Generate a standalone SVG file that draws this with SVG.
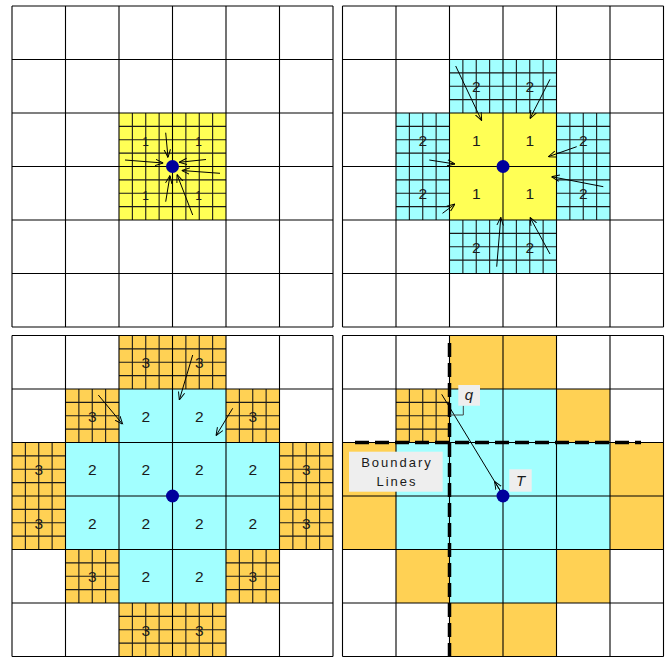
<svg xmlns="http://www.w3.org/2000/svg" xmlns:xlink="http://www.w3.org/1999/xlink" width="670" height="657" viewBox="0 0 670 657">
<style>
.yl{fill:#FFFF55}
.cy{fill:#A2FFFF}
.or{fill:#FFD154}
.grid{fill:none;stroke:#000;stroke-width:1.1}
.fine{fill:none;stroke:#1a1a1a;stroke-width:1.1}
.arr{fill:none;stroke:#000;stroke-width:1;marker-end:url(#ah)}
.dot{fill:#00009C}
.num{font-family:"Liberation Sans",Arial,sans-serif;font-size:15.5px;text-anchor:middle;fill:#1a1a1a}
.sm{font-size:12px}
.lbl{fill:#EEEEEE}
.it{font-family:"Liberation Sans",Arial,sans-serif;font-size:15px;font-style:italic;text-anchor:middle;fill:#1a1a1a}
.bl{font-family:"Liberation Sans",Arial,sans-serif;font-size:13px;letter-spacing:2px;text-anchor:middle;fill:#1a1a1a}
.dash{fill:none;stroke:#000;stroke-width:3.5;stroke-dasharray:14 6}
</style>
<defs>
<marker id="ah" viewBox="0 0 10 10" refX="10" refY="5" markerWidth="8" markerHeight="8" orient="auto" markerUnits="userSpaceOnUse">
<path d="M0,1 L10,5 L0,9" fill="none" stroke="#000" stroke-width="1.2"/>
</marker>
<path id="grid" class="grid" d="M0 0V321M53.5 0V321M107 0V321M160.5 0V321M214 0V321M267.5 0V321M321 0V321M0 0H321M0 53.5H321M0 107H321M0 160.5H321M0 214H321M0 267.5H321M0 321H321"/>
<path id="fine" class="fine" d="M13.375 0V53.5M26.75 0V53.5M40.125 0V53.5M0 13.375H53.5M0 26.75H53.5M0 40.125H53.5"/>
</defs>
<rect x="0" y="0" width="670" height="657" fill="#fff"/>

<g id="panel1" transform="translate(12,6)">
<rect class="yl" x="107" y="107" width="107" height="107"/>
<use href="#fine" x="107" y="107"/><use href="#fine" x="160.5" y="107"/><use href="#fine" x="107" y="160.5"/><use href="#fine" x="160.5" y="160.5"/>
<use href="#grid"/>
<g class="num sm"><text x="133.5" y="140">1</text><text x="186.5" y="140">1</text><text x="133.5" y="193.5">1</text><text x="186.5" y="193.5">1</text></g>
</g>

<g id="panel2" transform="translate(342.5,6)">
<rect class="yl" x="107" y="107" width="107" height="107"/>
<rect class="cy" x="107" y="53.5" width="107" height="53.5"/>
<rect class="cy" x="107" y="214" width="107" height="53.5"/>
<rect class="cy" x="53.5" y="107" width="53.5" height="107"/>
<rect class="cy" x="214" y="107" width="53.5" height="107"/>
<use href="#fine" x="107" y="53.5"/><use href="#fine" x="160.5" y="53.5"/><use href="#fine" x="107" y="214"/><use href="#fine" x="160.5" y="214"/>
<use href="#fine" x="53.5" y="107"/><use href="#fine" x="53.5" y="160.5"/><use href="#fine" x="214" y="107"/><use href="#fine" x="214" y="160.5"/>
<use href="#grid"/>
<g class="num">
<text x="133.75" y="86">2</text><text x="187.25" y="86">2</text>
<text x="80.25" y="139.5">2</text><text x="133.75" y="139.5">1</text><text x="187.25" y="139.5">1</text><text x="240.75" y="139.5">2</text>
<text x="80.25" y="193">2</text><text x="133.75" y="193">1</text><text x="187.25" y="193">1</text><text x="240.75" y="193">2</text>
<text x="133.75" y="246.5">2</text><text x="187.25" y="246.5">2</text>
</g>
</g>

<g id="panel3" transform="translate(12,335.5)">
<rect class="cy" x="107" y="53.5" width="107" height="214"/>
<rect class="cy" x="53.5" y="107" width="214" height="107"/>
<rect class="or" x="107" y="0" width="107" height="53.5"/>
<rect class="or" x="107" y="267.5" width="107" height="53.5"/>
<rect class="or" x="0" y="107" width="53.5" height="107"/>
<rect class="or" x="267.5" y="107" width="53.5" height="107"/>
<rect class="or" x="53.5" y="53.5" width="53.5" height="53.5"/>
<rect class="or" x="214" y="53.5" width="53.5" height="53.5"/>
<rect class="or" x="53.5" y="214" width="53.5" height="53.5"/>
<rect class="or" x="214" y="214" width="53.5" height="53.5"/>
<use href="#fine" x="107" y="0"/><use href="#fine" x="160.5" y="0"/>
<use href="#fine" x="53.5" y="53.5"/><use href="#fine" x="214" y="53.5"/>
<use href="#fine" x="0" y="107"/><use href="#fine" x="0" y="160.5"/><use href="#fine" x="267.5" y="107"/><use href="#fine" x="267.5" y="160.5"/>
<use href="#fine" x="53.5" y="214"/><use href="#fine" x="214" y="214"/>
<use href="#fine" x="107" y="267.5"/><use href="#fine" x="160.5" y="267.5"/>
<use href="#grid"/>
<g class="num">
<text x="133.75" y="32">3</text><text x="187.25" y="32">3</text>
<text x="80.25" y="86">3</text><text x="133.75" y="86">2</text><text x="187.25" y="86">2</text><text x="240.75" y="86">3</text>
<text x="26.75" y="139.5">3</text><text x="80.25" y="139.5">2</text><text x="133.75" y="139.5">2</text><text x="187.25" y="139.5">2</text><text x="240.75" y="139.5">2</text><text x="294.25" y="139.5">3</text>
<text x="26.75" y="193">3</text><text x="80.25" y="193">2</text><text x="133.75" y="193">2</text><text x="187.25" y="193">2</text><text x="240.75" y="193">2</text><text x="294.25" y="193">3</text>
<text x="80.25" y="246.5">3</text><text x="133.75" y="246.5">2</text><text x="187.25" y="246.5">2</text><text x="240.75" y="246.5">3</text>
<text x="133.75" y="300">3</text><text x="187.25" y="300">3</text>
</g>
</g>

<g id="panel4" transform="translate(342.5,335.5)">
<rect class="cy" x="107" y="53.5" width="107" height="214"/>
<rect class="cy" x="53.5" y="107" width="214" height="107"/>
<rect class="or" x="107" y="0" width="107" height="53.5"/>
<rect class="or" x="107" y="267.5" width="107" height="53.5"/>
<rect class="or" x="0" y="107" width="53.5" height="107"/>
<rect class="or" x="267.5" y="107" width="53.5" height="107"/>
<rect class="or" x="53.5" y="53.5" width="53.5" height="53.5"/>
<rect class="or" x="214" y="53.5" width="53.5" height="53.5"/>
<rect class="or" x="53.5" y="214" width="53.5" height="53.5"/>
<rect class="or" x="214" y="214" width="53.5" height="53.5"/>
<use href="#fine" x="53.5" y="53.5"/>
<use href="#grid"/>
</g>

<g id="boundary-lines">
<path class="dash" d="M449.5 343V656"/>
<path class="dash" d="M355 442.5H641"/>
</g>

<g id="connectors">
<path class="arr" d="M165.7 132.7L168 157.5"/>
<path class="arr" d="M125 160L163.3 163"/>
<path class="arr" d="M206 159.5L179 162.3"/>
<path class="arr" d="M220 173.3L181.7 170.5"/>
<path class="arr" d="M165.7 201.7L170 175.5"/>
<path class="arr" d="M192.7 215L177 174.5"/>
<path class="arr" d="M455.7 66L481.7 120.7"/>
<path class="arr" d="M550 79.3L530 118.5"/>
<path class="arr" d="M429.3 160L455 164"/>
<path class="arr" d="M442.5 213.3L455 204"/>
<path class="arr" d="M576.7 146.7L548.3 156.7"/>
<path class="arr" d="M603.3 186.7L551.5 176.7"/>
<path class="arr" d="M496.7 266.7L500.8 217.3"/>
<path class="arr" d="M550 254L530 217.3"/>
<path class="arr" d="M98.3 395L122.7 424.3"/>
<path class="arr" d="M192.7 355L179.3 400"/>
<path class="arr" d="M232.7 408.3L216 435.7"/>
<path d="M441.7 394.3L501 492" fill="none" stroke="#000" stroke-width="1"/>
<path class="arr" d="M501 492L494.5 481.3"/>
<path d="M463.3 405.7V415H450" fill="none" stroke="#444" stroke-width="1"/>
</g>

<g id="dots">
<circle class="dot" cx="172.5" cy="166.5" r="6.5"/>
<circle class="dot" cx="503" cy="166.5" r="6.5"/>
<circle class="dot" cx="172.5" cy="496" r="6.5"/>
<circle class="dot" cx="503" cy="496" r="6.5"/>
</g>

<g id="label-q">
<rect class="lbl" x="458.3" y="385" width="21.7" height="20.7"/>
<text class="it" x="469" y="400">q</text>
</g>
<g id="label-T">
<rect class="lbl" x="509.3" y="469.3" width="22.4" height="22.4"/>
<text class="it" x="520.5" y="485.5">T</text>
</g>
<g id="label-boundary">
<rect class="lbl" x="349" y="451.7" width="93.7" height="40"/>
<text class="bl" x="397" y="467">Boundary</text>
<text class="bl" x="397" y="486">Lines</text>
</g>
</svg>
